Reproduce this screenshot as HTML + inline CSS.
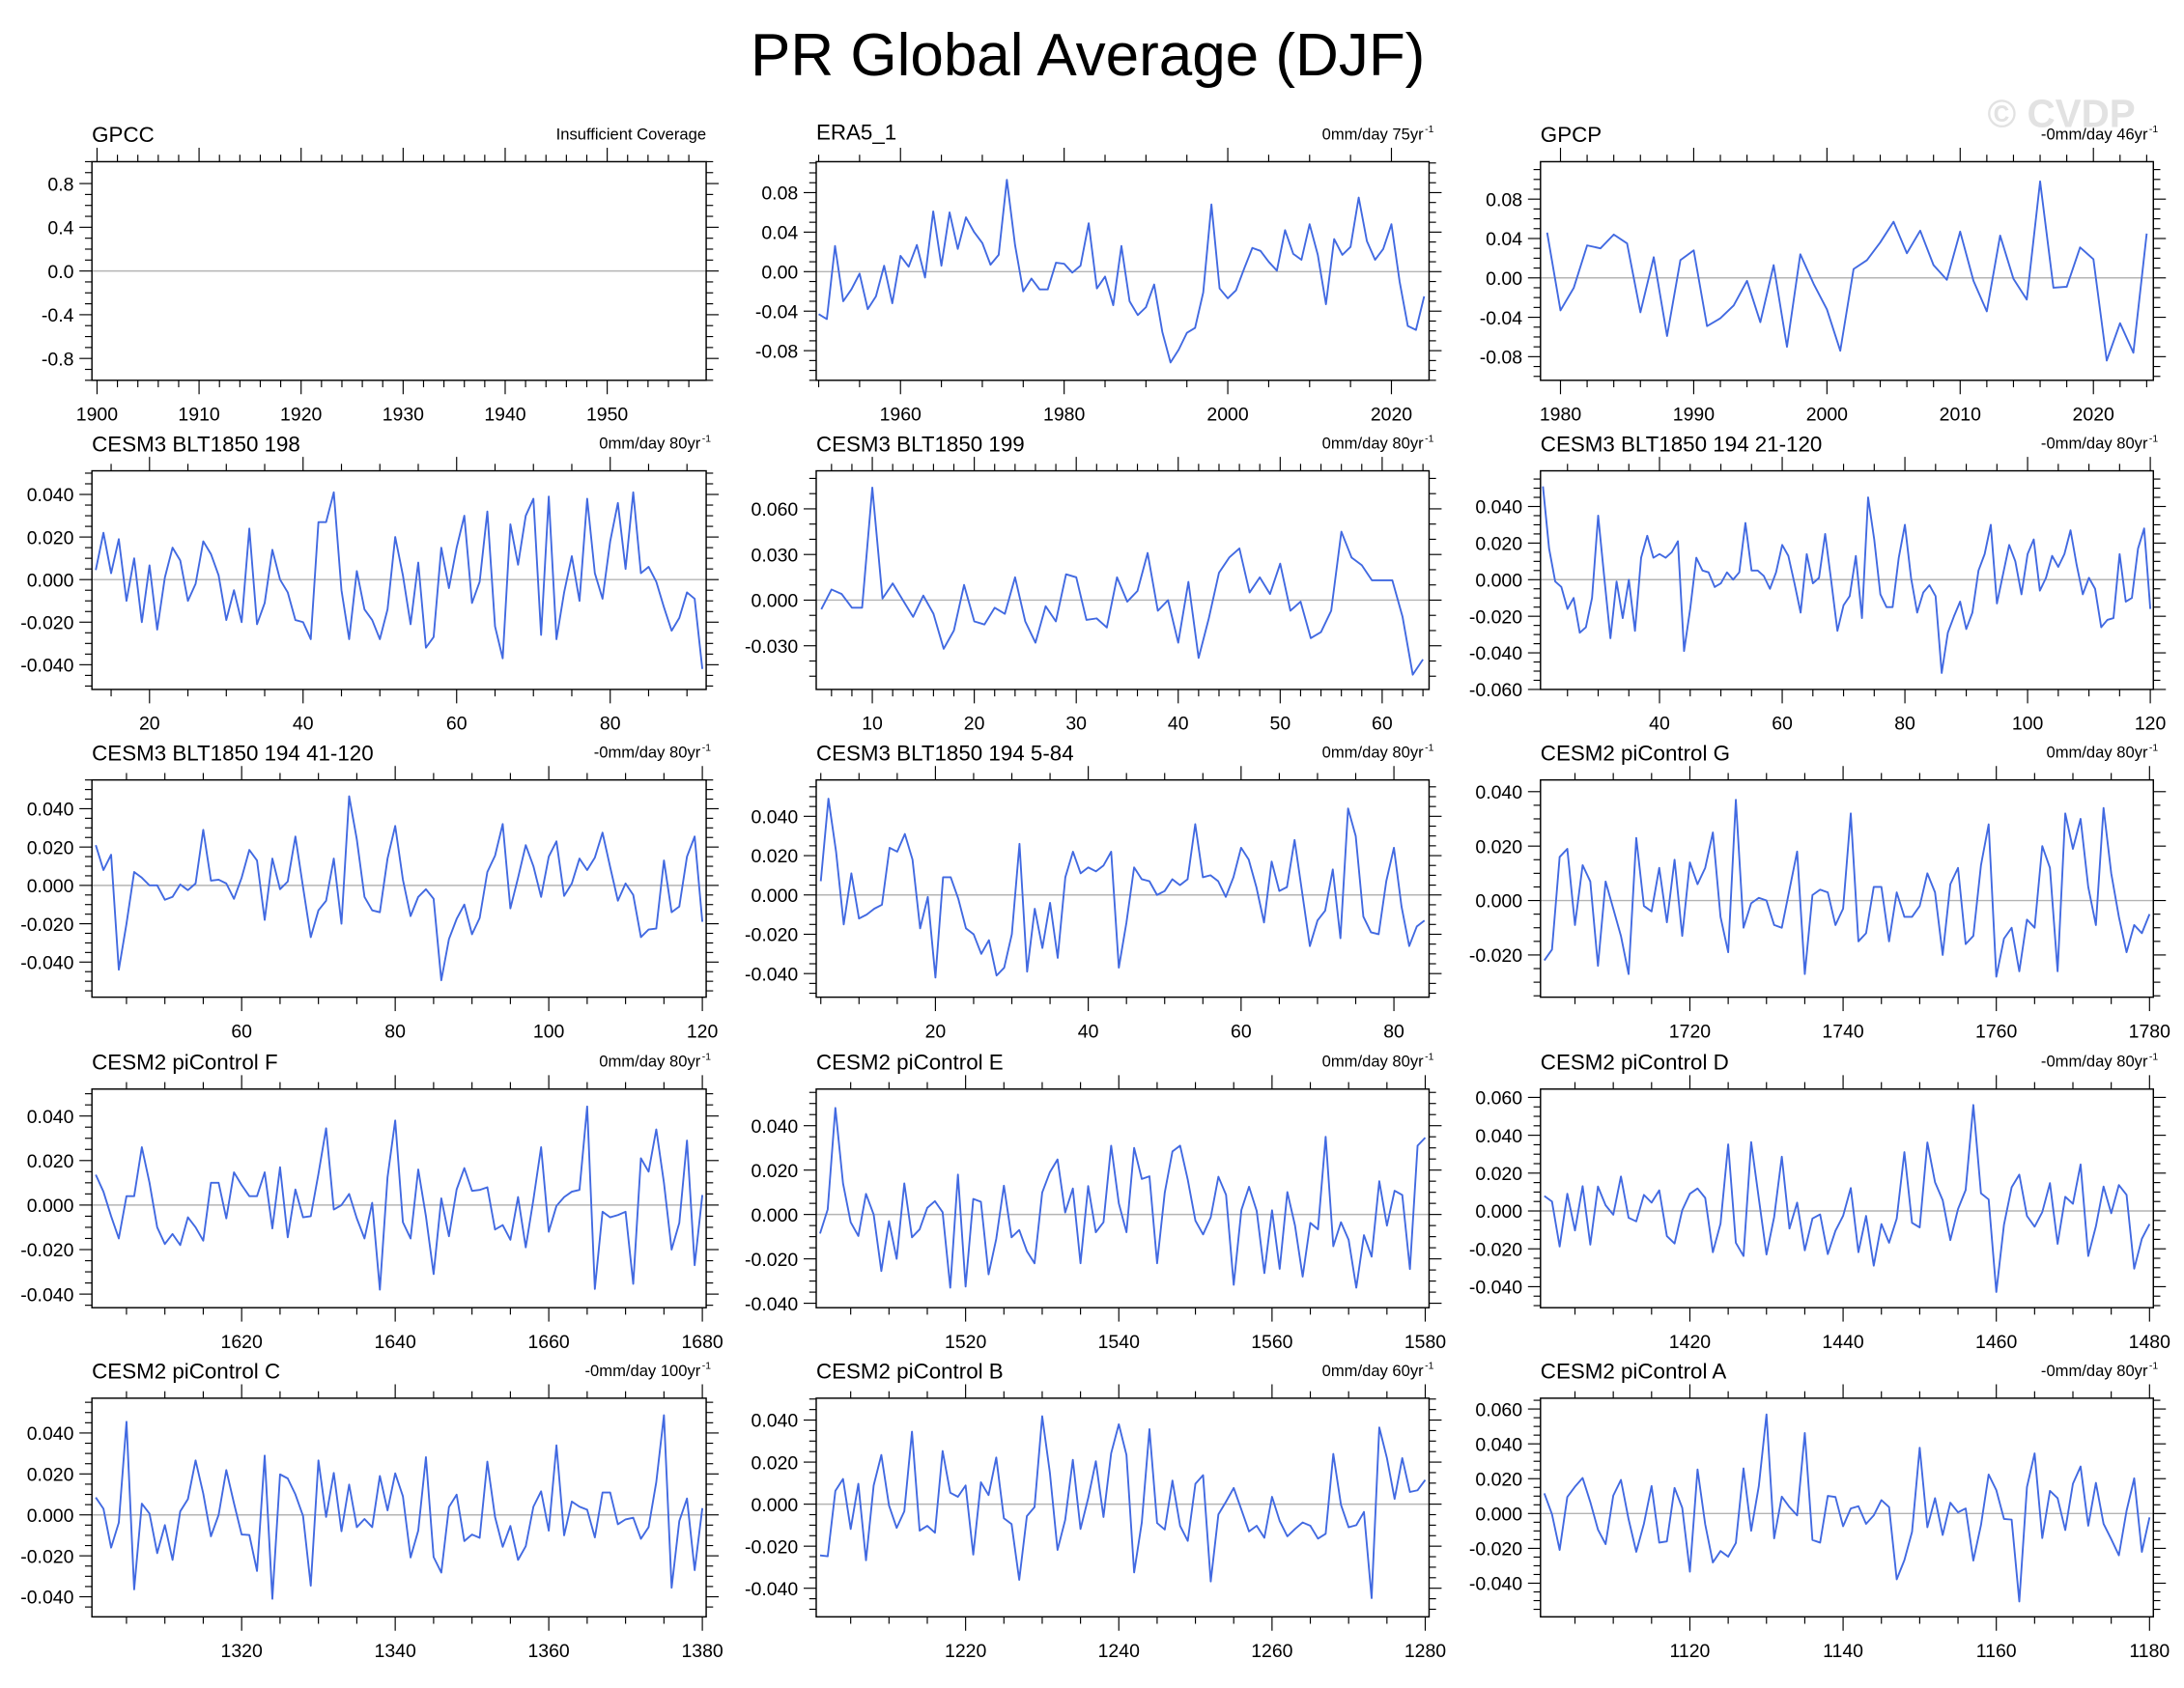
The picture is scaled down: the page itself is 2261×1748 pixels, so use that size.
<!DOCTYPE html>
<html><head><meta charset="utf-8"><title>PR Global Average (DJF)</title>
<style>
html,body{margin:0;padding:0;background:#fff;}
svg{display:block;}
text{font-family:"Liberation Sans",Arial,sans-serif;fill:#000;}
</style></head>
<body>
<svg id="chart" xmlns="http://www.w3.org/2000/svg" width="2261" height="1748" viewBox="0 0 1568 1212">
<rect x="0" y="0" width="1568" height="1212" fill="#fff"/>
<text x="781" y="54" font-size="43" text-anchor="middle">PR Global Average (DJF)</text>
<text x="1480" y="91" font-size="28" font-weight="bold" text-anchor="middle" style="fill:#e2e2e2">© CVDP</text>
</svg>
<script>
// ---- data (value arrays, x starts at the given first year/index) ----
const gpccValues = [];
const gpccStart = 1900;
const era5Start = 1950;
const era5Values = [-0.043,-0.048,0.026,-0.030,-0.018,-0.002,-0.038,-0.025,0.006,-0.032,0.016,0.005,0.027,-0.006,0.061,0.006,0.060,0.023,0.055,0.040,0.029,0.007,0.017,0.093,0.027,-0.020,-0.007,-0.018,-0.018,0.009,0.008,-0.001,0.006,0.049,-0.017,-0.005,-0.034,0.026,-0.030,-0.044,-0.036,-0.013,-0.061,-0.092,-0.079,-0.062,-0.057,-0.021,0.068,-0.017,-0.027,-0.019,0.003,0.024,0.021,0.010,0.001,0.042,0.018,0.012,0.048,0.017,-0.033,0.033,0.017,0.025,0.075,0.031,0.012,0.023,0.048,-0.010,-0.055,-0.059,-0.025];
const gpcpStart = 1979;
const gpcpValues = [0.046,-0.033,-0.010,0.033,0.030,0.044,0.035,-0.035,0.021,-0.059,0.018,0.028,-0.049,-0.041,-0.028,-0.003,-0.045,0.013,-0.070,0.024,-0.006,-0.032,-0.074,0.009,0.018,0.036,0.057,0.025,0.048,0.013,-0.002,0.047,-0.003,-0.034,0.043,-0.001,-0.022,0.098,-0.010,-0.009,0.031,0.019,-0.084,-0.046,-0.076,0.045];
const c198Start = 13;
const c198Values = [0.0045,0.022,0.003,0.019,-0.010,0.010,-0.020,0.0067,-0.0235,0.001,0.015,0.009,-0.010,-0.002,0.018,0.012,0.002,-0.019,-0.005,-0.020,0.024,-0.021,-0.011,0.014,0.000,-0.006,-0.019,-0.020,-0.028,0.027,0.027,0.041,-0.005,-0.028,0.004,-0.014,-0.019,-0.028,-0.014,0.020,0.002,-0.021,0.008,-0.032,-0.027,0.015,-0.004,0.015,0.030,-0.011,-0.001,0.032,-0.022,-0.037,0.026,0.007,0.030,0.038,-0.026,0.039,-0.028,-0.006,0.011,-0.010,0.038,0.003,-0.009,0.018,0.036,0.005,0.041,0.003,0.006,-0.001,-0.013,-0.024,-0.018,-0.006,-0.009,-0.042];
const c199Start = 5;
const c199Values = [-0.006,0.007,0.004,-0.005,-0.005,0.074,0.001,0.011,0.000,-0.011,0.003,-0.009,-0.032,-0.020,0.010,-0.014,-0.016,-0.005,-0.009,0.015,-0.014,-0.028,-0.004,-0.014,0.017,0.015,-0.013,-0.012,-0.018,0.015,-0.001,0.006,0.031,-0.007,0.000,-0.028,0.012,-0.038,-0.012,0.018,0.028,0.034,0.005,0.015,0.004,0.024,-0.007,-0.001,-0.025,-0.021,-0.007,0.045,0.028,0.023,0.013,0.013,0.013,-0.011,-0.049,-0.039];
const c194aStart = 21;
const c194aValues = [0.051,0.017,-0.001,-0.004,-0.016,-0.010,-0.029,-0.026,-0.010,0.035,0.001,-0.032,-0.001,-0.021,0.000,-0.028,0.012,0.024,0.012,0.014,0.012,0.015,0.021,-0.039,-0.016,0.012,0.005,0.004,-0.004,-0.002,0.004,0.000,0.004,0.031,0.005,0.005,0.002,-0.005,0.004,0.019,0.013,-0.002,-0.018,0.014,-0.002,0.001,0.025,-0.001,-0.028,-0.014,-0.009,0.013,-0.021,0.045,0.022,-0.008,-0.015,-0.015,0.012,0.030,0.001,-0.018,-0.007,-0.003,-0.009,-0.051,-0.029,-0.020,-0.012,-0.027,-0.018,0.005,0.014,0.030,-0.013,0.003,0.019,0.010,-0.008,0.014,0.022,-0.006,0.001,0.013,0.007,0.014,0.027,0.008,-0.008,0.001,-0.005,-0.026,-0.022,-0.021,0.014,-0.012,-0.010,0.017,0.028,-0.016];
const gStart = 1701;
const gValues = [-0.022,-0.018,0.016,0.019,-0.009,0.013,0.007,-0.024,0.007,-0.003,-0.013,-0.027,0.023,-0.002,-0.004,0.012,-0.008,0.015,-0.013,0.014,0.006,0.012,0.025,-0.006,-0.019,0.037,-0.010,-0.001,0.001,0.000,-0.009,-0.010,0.004,0.018,-0.027,0.002,0.004,0.003,-0.009,-0.003,0.032,-0.015,-0.012,0.005,0.005,-0.015,0.003,-0.006,-0.006,-0.002,0.010,0.003,-0.020,0.006,0.012,-0.016,-0.013,0.013,0.028,-0.028,-0.014,-0.010,-0.026,-0.007,-0.010,0.020,0.012,-0.026,0.032,0.019,0.030,0.005,-0.009,0.034,0.010,-0.006,-0.019,-0.009,-0.012,-0.005];
const c194bStart = 41;
const c194bValues = [0.021,0.008,0.016,-0.044,-0.020,0.007,0.004,0.000,0.000,-0.0075,-0.006,0.0005,-0.0025,0.001,0.029,0.0025,0.003,0.001,-0.007,0.004,0.0185,0.013,-0.018,0.014,-0.002,0.002,0.0255,-0.001,-0.027,-0.013,-0.008,0.014,-0.020,0.0465,0.024,-0.006,-0.013,-0.014,0.014,0.031,0.003,-0.016,-0.006,-0.002,-0.007,-0.0495,-0.028,-0.0175,-0.010,-0.0255,-0.017,0.007,0.0155,0.032,-0.012,0.004,0.021,0.010,-0.006,0.015,0.023,-0.0055,0.001,0.014,0.008,0.0145,0.0275,0.0095,-0.008,0.001,-0.005,-0.027,-0.023,-0.0225,0.013,-0.014,-0.011,0.015,0.0255,-0.019];
const c194cStart = 5;
const c194cValues = [0.007,0.049,0.022,-0.015,0.011,-0.012,-0.010,-0.007,-0.005,0.024,0.022,0.031,0.018,-0.017,-0.001,-0.042,0.009,0.009,-0.002,-0.017,-0.020,-0.030,-0.023,-0.041,-0.037,-0.020,0.026,-0.039,-0.007,-0.027,-0.004,-0.032,0.009,0.022,0.011,0.014,0.012,0.015,0.022,-0.037,-0.014,0.014,0.008,0.007,0.000,0.002,0.008,0.005,0.008,0.036,0.009,0.010,0.007,-0.001,0.009,0.024,0.018,0.004,-0.014,0.017,0.002,0.004,0.028,0.001,-0.026,-0.013,-0.008,0.013,-0.022,0.044,0.030,-0.011,-0.019,-0.020,0.007,0.024,-0.006,-0.026,-0.016,-0.013];
const fStart = 1601;
const fValues = [0.0136,0.006,-0.005,-0.015,0.004,0.004,0.026,0.010,-0.010,-0.0175,-0.013,-0.018,-0.0055,-0.010,-0.016,0.010,0.010,-0.006,0.0147,0.009,0.004,0.004,0.0147,-0.0105,0.017,-0.0145,0.007,-0.0055,-0.005,0.014,0.0345,-0.002,0.000,0.005,-0.006,-0.015,0.001,-0.038,0.0125,0.038,-0.0077,-0.015,0.016,-0.005,-0.031,0.003,-0.014,0.007,0.0166,0.0064,0.0068,0.008,-0.011,-0.009,-0.0156,0.0036,-0.019,0.0025,0.026,-0.012,-0.0004,0.0036,0.006,0.0068,0.0443,-0.0377,-0.003,-0.0055,-0.0045,-0.003,-0.0354,0.021,0.015,0.034,0.010,-0.020,-0.008,0.029,-0.027,0.0045];
const eStart = 1501;
const eValues = [-0.0086,0.0023,0.048,0.014,-0.0035,-0.0097,0.0093,0.000,-0.0255,-0.003,-0.020,0.014,-0.0103,-0.0067,0.003,0.006,0.001,-0.033,0.018,-0.0325,0.007,0.0057,-0.027,-0.011,0.013,-0.0103,-0.007,-0.0165,-0.022,0.0099,0.019,0.0248,0.0009,0.0117,-0.022,0.0128,-0.008,-0.0035,0.031,0.005,-0.008,0.030,0.016,0.0172,-0.022,0.0099,0.0284,0.031,0.0157,-0.0028,-0.009,-0.0013,0.017,0.0088,-0.0317,0.002,0.0125,0.0016,-0.0264,0.0019,-0.0245,0.0101,-0.005,-0.028,-0.0038,-0.0067,0.035,-0.0143,-0.0035,-0.0114,-0.033,-0.0093,-0.019,0.015,-0.005,0.0107,0.0088,-0.0246,0.031,0.0346];
const dStart = 1401;
const dValues = [0.0079,0.005,-0.0188,0.0091,-0.0103,0.0131,-0.0178,0.0129,0.003,-0.002,0.0182,-0.0036,-0.0055,0.0085,0.0044,0.0109,-0.0133,-0.0172,0.0004,0.0091,0.0119,0.0069,-0.0218,-0.0067,0.0352,-0.0168,-0.0238,0.0364,0.0065,-0.023,-0.0032,0.0287,-0.0093,0.0044,-0.0208,-0.004,-0.0018,-0.0228,-0.0105,-0.0026,0.0121,-0.0218,-0.0026,-0.0289,-0.0069,-0.0168,-0.004,0.0311,-0.0063,-0.0087,0.0362,0.0152,0.0057,-0.0154,0.001,0.0111,0.056,0.0093,0.0061,-0.0428,-0.0073,0.0125,0.0192,-0.0026,-0.0083,-0.0006,0.0147,-0.0174,0.0075,0.0038,0.0246,-0.0238,-0.0081,0.0129,-0.0012,0.0137,0.0085,-0.0305,-0.0147,-0.0069];
const cStart = 1301;
const cValues = [0.0085,0.003,-0.016,-0.0038,0.0455,-0.0364,0.0055,0.0006,-0.0187,-0.005,-0.022,0.0017,0.0077,0.0266,0.0104,-0.0105,0.000,0.0219,0.0057,-0.0096,-0.0098,-0.0274,0.029,-0.041,0.0198,0.0178,0.010,-0.0006,-0.0346,0.0266,-0.001,0.0205,-0.008,0.0148,-0.006,-0.002,-0.006,0.019,0.0022,0.0203,0.0091,-0.0208,-0.0077,0.0282,-0.0206,-0.0282,0.0038,0.0099,-0.0128,-0.0096,-0.0112,0.026,-0.001,-0.0156,-0.0054,-0.022,-0.0153,0.004,0.0115,-0.0077,0.034,-0.010,0.0065,0.004,0.0025,-0.011,0.0109,0.0109,-0.0046,-0.0022,-0.0014,-0.0117,-0.006,0.016,0.0487,-0.0356,-0.003,0.008,-0.027,0.0033];
const bStart = 1201;
const bValues = [-0.0244,-0.0248,0.0063,0.012,-0.0118,0.0097,-0.0267,0.0089,0.0234,-0.0006,-0.0113,-0.0034,0.0345,-0.0126,-0.0103,-0.0136,0.0253,0.0054,0.0035,0.0089,-0.024,0.0104,0.0043,0.0222,-0.0067,-0.0095,-0.036,-0.0057,-0.0014,0.0418,0.015,-0.0218,-0.0075,0.0211,-0.0118,0.0028,0.0204,-0.0061,0.0242,0.038,0.0234,-0.0325,-0.0087,0.0357,-0.009,-0.0121,0.0112,-0.0103,-0.0175,0.0097,0.0138,-0.0368,-0.0049,0.0012,0.0077,-0.0026,-0.013,-0.0103,-0.016,0.0035,-0.008,-0.0153,-0.0118,-0.0087,-0.0103,-0.0164,-0.0141,0.0239,-0.0003,-0.011,-0.01,-0.0037,-0.0447,0.0365,0.0219,0.0025,0.0219,0.0058,0.0066,0.0115];
const aStart = 1101;
const aValues = [0.0116,-0.0004,-0.0209,0.0095,0.0154,0.0204,0.0066,-0.0092,-0.0176,0.0103,0.0193,-0.0033,-0.022,-0.0059,0.0158,-0.0167,-0.016,0.0147,0.0033,-0.0334,0.0253,-0.0062,-0.0281,-0.0215,-0.0248,-0.0169,0.0259,-0.0099,0.0158,0.0569,-0.0143,0.0097,0.0037,-0.0011,0.0462,-0.0152,-0.0167,0.0101,0.0095,-0.0073,0.0029,0.0042,-0.0059,-0.0011,0.0077,0.0037,-0.0378,-0.0268,-0.0105,0.0378,-0.0079,0.0088,-0.0123,0.0062,0.0007,0.0029,-0.027,-0.0066,0.0224,0.0134,-0.0031,-0.0035,-0.0505,0.0152,0.0345,-0.0141,0.013,0.0088,-0.0095,0.0171,0.027,-0.007,0.0176,-0.0059,-0.0147,-0.024,0.0015,0.0202,-0.022,-0.0022];

const titles = ["GPCC","ERA5_1","GPCP","CESM3 BLT1850 198","CESM3 BLT1850 199","CESM3 BLT1850 194 21-120","CESM3 BLT1850 194 41-120","CESM3 BLT1850 194 5-84","CESM2 piControl G","CESM2 piControl F","CESM2 piControl E","CESM2 piControl D","CESM2 piControl C","CESM2 piControl B","CESM2 piControl A"];
const subtitles = ["Insufficient Coverage","0mm/day 75yr","-0mm/day 46yr","0mm/day 80yr","0mm/day 80yr","-0mm/day 80yr","-0mm/day 80yr","0mm/day 80yr","0mm/day 80yr","0mm/day 80yr","0mm/day 80yr","-0mm/day 80yr","-0mm/day 100yr","0mm/day 60yr","-0mm/day 80yr"];

// ---- layout ----
const colX = [[66,507],[586,1026],[1106,1546]];
const rowY = [[116,273],[338,495],[560,716],[782,939],[1004,1161]];
const panels = [
 {v:gpccValues,s:gpccStart,xr:[1899.5,1959.7],xm:10,xn:2,yr:[-1,1],ym:0.4,yn:0.1,dec:1,ytk:[-0.8,0.8]},
 {v:era5Values,s:era5Start,xr:[1949.7,2024.6],xm:20,xn:5,yr:[-0.110,0.1113],ym:0.04,yn:0.01,dec:2,ytk:[-0.08,0.08]},
 {v:gpcpValues,s:gpcpStart,xr:[1978.5,2024.5],xm:10,xn:2,yr:[-0.104,0.118],ym:0.04,yn:0.01,dec:2,ytk:[-0.08,0.08]},
 {v:c198Values,s:c198Start,xr:[12.5,92.5],xm:20,xn:5,yr:[-0.0516,0.0511],ym:0.02,yn:0.005,dec:3,ytk:[-0.04,0.04]},
 {v:c199Values,s:c199Start,xr:[4.5,64.6],xm:10,xn:2,yr:[-0.0587,0.085],ym:0.03,yn:0.01,dec:3,ytk:[-0.03,0.06]},
 {v:c194aValues,s:c194aStart,xr:[20.6,120.5],xm:20,xn:5,yr:[-0.060,0.0595],ym:0.02,yn:0.005,dec:3,ytk:[-0.06,0.04]},
 {v:c194bValues,s:c194bStart,xr:[40.5,120.5],xm:20,xn:5,yr:[-0.0583,0.055],ym:0.02,yn:0.005,dec:3,ytk:[-0.04,0.04]},
 {v:c194cValues,s:c194cStart,xr:[4.4,84.6],xm:20,xn:5,yr:[-0.052,0.0585],ym:0.02,yn:0.005,dec:3,ytk:[-0.04,0.04]},
 {v:gValues,s:gStart,xr:[1700.5,1780.5],xm:20,xn:5,yr:[-0.0355,0.0443],ym:0.02,yn:0.005,dec:3,ytk:[-0.02,0.04]},
 {v:fValues,s:fStart,xr:[1600.5,1680.5],xm:20,xn:5,yr:[-0.0461,0.0521],ym:0.02,yn:0.005,dec:3,ytk:[-0.04,0.04]},
 {v:eValues,s:eStart,xr:[1500.5,1580.5],xm:20,xn:5,yr:[-0.042,0.0565],ym:0.02,yn:0.005,dec:3,ytk:[-0.04,0.04]},
 {v:dValues,s:dStart,xr:[1400.5,1480.5],xm:20,xn:5,yr:[-0.0511,0.0644],ym:0.02,yn:0.005,dec:3,ytk:[-0.04,0.06]},
 {v:cValues,s:cStart,xr:[1300.5,1380.5],xm:20,xn:5,yr:[-0.0498,0.057],ym:0.02,yn:0.005,dec:3,ytk:[-0.04,0.04]},
 {v:bValues,s:bStart,xr:[1200.5,1280.5],xm:20,xn:5,yr:[-0.0536,0.0504],ym:0.02,yn:0.005,dec:3,ytk:[-0.04,0.04]},
 {v:aValues,s:aStart,xr:[1100.5,1180.5],xm:20,xn:5,yr:[-0.0593,0.0662],ym:0.02,yn:0.005,dec:3,ytk:[-0.04,0.06]}
];

const NS = "http://www.w3.org/2000/svg";
const svg = document.getElementById('chart');
function mk(tag, attrs, parent){
  const e = document.createElementNS(NS, tag);
  for (const k in attrs) e.setAttribute(k, attrs[k]);
  parent.appendChild(e);
  return e;
}
function fmt(v, dec){
  return Math.abs(v) < 1e-9 ? (0).toFixed(dec) : v.toFixed(dec);
}
function slug(t){ return t.toLowerCase().replace(/[^a-z0-9]+/g,'-').replace(/^-|-$/g,''); }

panels.forEach((p, i) => {
  const col = i % 3, row = Math.floor(i / 3);
  const x0 = colX[col][0], x1 = colX[col][1], y0 = rowY[row][0], y1 = rowY[row][1];
  const sx = v => x0 + (v - p.xr[0]) / (p.xr[1] - p.xr[0]) * (x1 - x0);
  const sy = v => y1 - (v - p.yr[0]) / (p.yr[1] - p.yr[0]) * (y1 - y0);
  const g = mk('g', {}, svg);
  
  

  const z = mk('line', {x1:x0, x2:x1, y1:sy(0), y2:sy(0), stroke:'#b4b4b4', 'stroke-width':1}, g);
  
  

  const yt = mk('g', {stroke:'#000', 'stroke-width':0.8}, g);
  
  
  const kn0 = Math.ceil(p.yr[0] / p.yn - 1e-6), kn1 = Math.floor(p.yr[1] / p.yn + 1e-6);
  for (let k = kn0; k <= kn1; k++) {
    const v = k * p.yn, y = sy(v);
    const isMaj = Math.abs(v / p.ym - Math.round(v / p.ym)) < 1e-6;
    const len = isMaj ? 9 : 5;
    mk('line', {x1:x0 - len, x2:x0, y1:y, y2:y}, yt);
    mk('line', {x1:x1, x2:x1 + len, y1:y, y2:y}, yt);
  }
  const ylg = mk('g', {}, g);
  
  
  const km0 = Math.round(p.ytk[0] / p.ym), km1 = Math.round(p.ytk[1] / p.ym);
  for (let k = km0; k <= km1; k++) {
    const v = k * p.ym;
    const t = mk('text', {x:x0 - 13, y:sy(v) + 5, 'font-size':13.5, 'text-anchor':'end'}, ylg);
    t.textContent = fmt(v, p.dec);
  }

  const xt = mk('g', {stroke:'#000', 'stroke-width':0.8}, g);
  
  
  const xl = mk('g', {}, g);
  
  
  const xn0 = Math.ceil(p.xr[0] / p.xn), xn1 = Math.floor(p.xr[1] / p.xn);
  for (let k = xn0; k <= xn1; k++) {
    const v = k * p.xn, x = sx(v);
    const isMaj = v % p.xm === 0;
    const len = isMaj ? 10 : 5;
    mk('line', {x1:x, x2:x, y1:y1, y2:y1 + len}, xt);
    mk('line', {x1:x, x2:x, y1:y0 - len, y2:y0}, xt);
    if (isMaj) {
      const t = mk('text', {x:x, y:y1 + 29, 'font-size':13.5, 'text-anchor':'middle'}, xl);
      t.textContent = String(v);
    }
  }

  const fr = mk('rect', {x:x0, y:y0, width:x1 - x0, height:y1 - y0, fill:'none', stroke:'#000', 'stroke-width':1}, g);
  
  

  if (p.v.length) {
    const pts = p.v.map((v, j) => sx(p.s + j).toFixed(2) + ',' + sy(v).toFixed(2)).join(' ');
    const pl = mk('polyline', {points:pts, fill:'none', stroke:'#4169e1', 'stroke-width':1.3, 'stroke-linejoin':'round'}, g);
    
    
  }

  const tt = mk('text', {x:x0, y:y0 - (i === 1 ? 16 : 14), 'font-size':15.5}, g);
  
  
  tt.textContent = titles[i];
  const st = mk('text', {x:x1 - (i === 0 ? 0 : 4), y:y0 - 16, 'font-size':11.5, 'text-anchor':'end'}, g);
  
  
  st.textContent = subtitles[i];
  if (i !== 0) {
    const sup = mk('text', {x:x1 - 3, y:y0 - 21, 'font-size':7.2, 'text-anchor':'start'}, g);
    
    
    sup.textContent = '-1';
  }
});
</script>
</body></html>
